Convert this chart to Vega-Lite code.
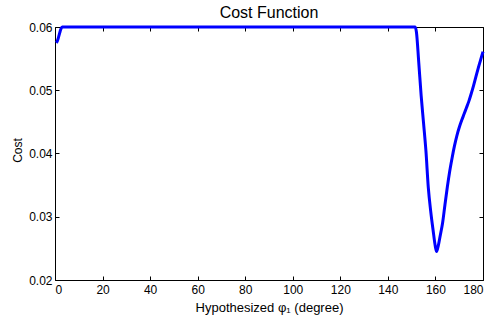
{
  "$schema": "https://vega.github.io/schema/vega-lite/v6.json",
  "autosize": "none",
  "width": 428,
  "height": 253,
  "padding": {"left": 55, "top": 27, "right": 8, "bottom": 41},
  "background": "white",
  "title": {"text": "Cost Function", "font": "Liberation Sans", "fontSize": 16, "fontWeight": "normal", "color": "black", "anchor": "middle", "offset": 0},
  "config": {
    "view": {"stroke": null},
    "axis": {
      "domainColor": "black", "domainWidth": 1, "tickColor": "black", "tickWidth": 1,
      "grid": false, "labelFont": "Liberation Sans", "labelFontSize": 12, "labelColor": "black",
      "titleFont": "Liberation Sans", "titleFontSize": 13, "titleFontWeight": "normal", "titleColor": "black",
      "tickSize": -4
    }
  },
  "data": {"values": [
    {"phi": 0.5, "cost": 0.0575},
    {"phi": 1, "cost": 0.0578},
    {"phi": 1.5, "cost": 0.0584},
    {"phi": 2, "cost": 0.0591},
    {"phi": 2.5, "cost": 0.0597},
    {"phi": 3, "cost": 0.06},
    {"phi": 20, "cost": 0.06},
    {"phi": 40, "cost": 0.06},
    {"phi": 60, "cost": 0.06},
    {"phi": 80, "cost": 0.06},
    {"phi": 100, "cost": 0.06},
    {"phi": 120, "cost": 0.06},
    {"phi": 140, "cost": 0.06},
    {"phi": 151.5, "cost": 0.06},
    {"phi": 152, "cost": 0.0592},
    {"phi": 153, "cost": 0.0543},
    {"phi": 154, "cost": 0.0491},
    {"phi": 155, "cost": 0.0448},
    {"phi": 156, "cost": 0.0404},
    {"phi": 157, "cost": 0.0346},
    {"phi": 158, "cost": 0.0309},
    {"phi": 159, "cost": 0.0279},
    {"phi": 160, "cost": 0.0252},
    {"phi": 160.5, "cost": 0.0245},
    {"phi": 161, "cost": 0.0251},
    {"phi": 162, "cost": 0.027},
    {"phi": 163, "cost": 0.029},
    {"phi": 164, "cost": 0.0319},
    {"phi": 165, "cost": 0.0347},
    {"phi": 166, "cost": 0.0372},
    {"phi": 167, "cost": 0.0393},
    {"phi": 168, "cost": 0.0412},
    {"phi": 169, "cost": 0.0428},
    {"phi": 170, "cost": 0.0441},
    {"phi": 171, "cost": 0.0452},
    {"phi": 172, "cost": 0.0462},
    {"phi": 173, "cost": 0.0472},
    {"phi": 174, "cost": 0.0482},
    {"phi": 175, "cost": 0.0494},
    {"phi": 176, "cost": 0.0507},
    {"phi": 177, "cost": 0.0521},
    {"phi": 178, "cost": 0.0535},
    {"phi": 179, "cost": 0.0548},
    {"phi": 180, "cost": 0.0561}
  ]},
  "resolve": {"axis": {"x": "independent", "y": "independent"}},
  "layer": [
    {
      "mark": {"type": "line", "opacity": 0},
      "encoding": {
        "x": {"field": "phi", "type": "quantitative", "scale": {"domain": [0, 180], "nice": false},
              "axis": {"orient": "top", "labels": false, "title": null, "values": [0,20,40,60,80,100,120,140,160,180]}},
        "y": {"field": "cost", "type": "quantitative", "scale": {"domain": [0.02, 0.06], "nice": false, "zero": false},
              "axis": {"orient": "right", "labels": false, "title": null, "values": [0.02,0.03,0.04,0.05,0.06]}}
      }
    },
    {
      "mark": {"type": "line", "color": "#0000ff", "strokeWidth": 3, "interpolate": "monotone", "clip": false},
      "encoding": {
        "x": {"field": "phi", "type": "quantitative", "scale": {"domain": [0, 180], "nice": false},
              "axis": {"orient": "bottom", "values": [0,20,40,60,80,100,120,140,160,180], "labelPadding": 8,
                       "title": "Hypothesized φ₁ (degree)", "titleX": 214, "titleY": 27, "titleBaseline": "middle"}},
        "y": {"field": "cost", "type": "quantitative", "scale": {"domain": [0.02, 0.06], "nice": false, "zero": false},
              "axis": {"orient": "left", "values": [0.02,0.03,0.04,0.05,0.06], "format": ".2f", "labelPadding": 7,
                       "title": "Cost", "titleFontSize": 12, "titleX": -38, "titleY": 123, "titleBaseline": "middle"}}
      }
    }
  ]
}
